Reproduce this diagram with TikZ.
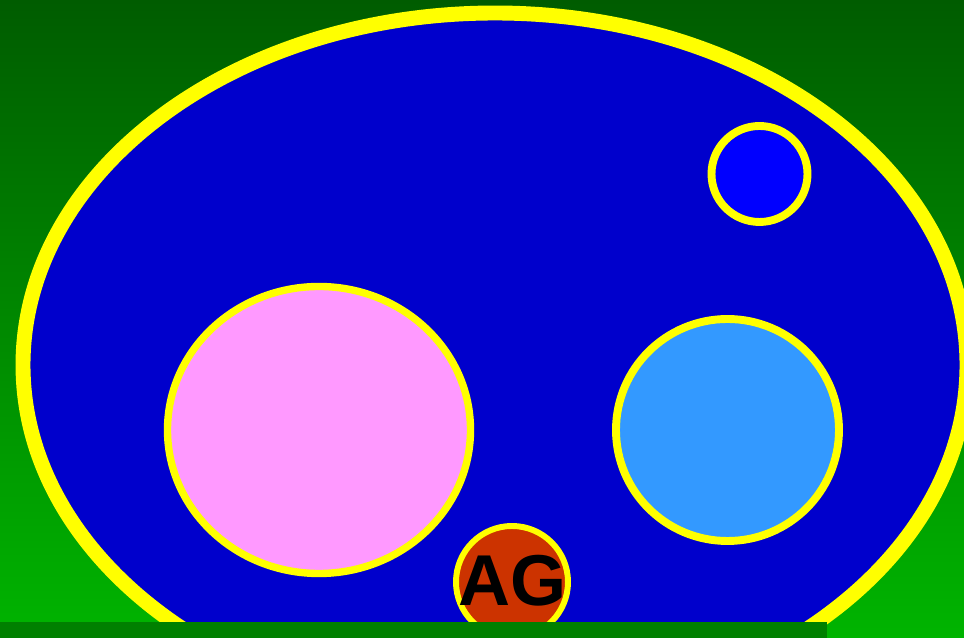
\documentclass[tikz,border=0pt]{standalone}
\usepackage{fontspec}
\setmainfont{Liberation Sans}
\definecolor{bgtop}{HTML}{005C00}
\definecolor{bgbottom}{HTML}{00B400}
\definecolor{cellblue}{HTML}{0000CC}
\definecolor{ringyellow}{HTML}{FFFF00}
\definecolor{pinkfill}{HTML}{FF99FF}
\definecolor{skyfill}{HTML}{3399FF}
\definecolor{dotblue}{HTML}{0000FF}
\definecolor{agfill}{HTML}{CC3300}
\definecolor{barfill}{HTML}{008000}

\begin{document}
\begin{tikzpicture}[x=0.02cm, y=0.02cm,
    ring/.style={draw=ringyellow, line width=#1},
    ring/.default=4.2pt]
    \useasboundingbox (0,0) rectangle (964,638);
    \clip (0,0) rectangle (964,638);

    % Background gradient
    \shade[top color=bgtop, bottom color=bgbottom] (0,0) rectangle (964,638);

    % Big cell
    \draw[ring=8.5pt, fill=cellblue] (495,273) ellipse [x radius=472, y radius=352];

    % Inner circles
    \draw[ring, fill=pinkfill] (319,208) ellipse [x radius=151.5, y radius=143.5];
    \draw[ring=4.5pt, fill=skyfill] (727.5,208) ellipse [x radius=111.5, y radius=111];
    \draw[ring=4.5pt, fill=dotblue] (759.5,464) circle [radius=48];

    % AG circle
    \draw[ring=3.4pt, fill=agfill] (512,56) circle [radius=56];
    \node[text=black, font=\fontsize{41}{41}\selectfont\bfseries, inner sep=0pt] (ag) at (513,57) {AG};

    % Bottom bar
    \fill[barfill] (0,0) rectangle (827,16);
\end{tikzpicture}
\end{document}
